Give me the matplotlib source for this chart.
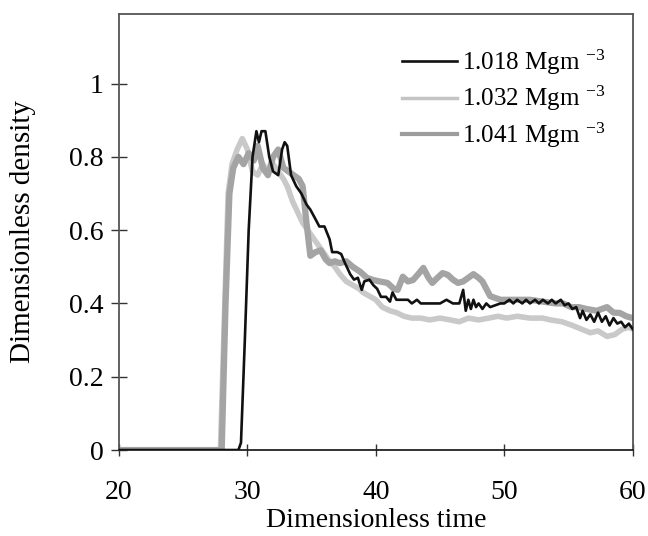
import matplotlib
matplotlib.use("Agg")
from matplotlib import pyplot as plt

plt.rcParams['font.family'] = ['Liberation Serif', 'DejaVu Serif']
plt.rcParams['mathtext.default'] = 'regular'

# 1.018 Mgm-3 (black line)
t_a = [20, 29.3, 29.5, 29.8, 30.1, 30.4, 30.7, 30.9, 31.1, 31.4, 31.7, 32.0, 32.4, 32.7, 32.9,
       33.1, 33.4, 33.8, 34.2, 34.6, 34.9, 35.3, 35.6, 36.0, 36.4, 36.6, 37.0, 37.3, 37.6, 38.0,
       38.3, 38.6, 38.9, 39.1, 39.5, 39.8, 40.1, 40.4, 40.8, 41.1, 41.3, 41.6, 42.0, 42.5, 42.8,
       43.2, 43.5, 44.0, 44.5, 45.0, 45.5, 46.0, 46.5, 46.8, 47.0, 47.2, 47.4, 47.6, 47.8, 48.0,
       48.3, 48.6, 48.9, 49.3, 49.7, 50.0, 50.4, 50.7, 51.0, 51.4, 51.7, 52.0, 52.4, 52.7, 53.0,
       53.4, 53.7, 54.0, 54.4, 54.7, 55.0, 55.3, 55.6, 55.9, 56.1, 56.4, 56.7, 57.0, 57.3, 57.6,
       57.9, 58.2, 58.5, 58.8, 59.1, 59.4, 59.7, 60.0]
d_a = [0, 0, 0.02, 0.3, 0.6, 0.8, 0.87, 0.84, 0.87, 0.87, 0.8, 0.76, 0.75, 0.82, 0.84,
       0.83, 0.75, 0.72, 0.70, 0.67, 0.656, 0.63, 0.61, 0.61, 0.575, 0.54, 0.54, 0.535, 0.51, 0.48,
       0.465, 0.47, 0.437, 0.46, 0.465, 0.45, 0.44, 0.418, 0.418, 0.405, 0.43, 0.41, 0.41, 0.41, 0.40,
       0.41, 0.40, 0.40, 0.40, 0.40, 0.41, 0.40, 0.40, 0.437, 0.38, 0.41, 0.385, 0.41, 0.39, 0.40,
       0.385, 0.40, 0.39, 0.395, 0.40, 0.40, 0.41, 0.40, 0.41, 0.40, 0.41, 0.40, 0.41, 0.40, 0.41,
       0.40, 0.41, 0.40, 0.41, 0.395, 0.40, 0.385, 0.39, 0.36, 0.38, 0.355, 0.37, 0.35, 0.375, 0.35,
       0.365, 0.34, 0.36, 0.345, 0.35, 0.335, 0.345, 0.33]

# 1.032 Mgm-3 (light grey)
t_b = [20, 27.9, 28.2, 28.5, 28.8, 29.2, 29.6, 30.0, 30.4, 30.8, 31.2, 31.6, 32.0, 32.4, 32.8,
       33.1, 33.5, 33.9, 34.3, 34.7, 35.1, 35.5, 35.9, 36.3, 36.8, 37.2, 37.7, 38.2, 38.7, 39.0,
       39.5, 40.0, 40.5, 41.1, 41.6, 42.2, 42.8, 43.5, 44.2, 45.0, 45.8, 46.5, 47.2, 48.0, 48.8,
       49.5, 50.2, 51.0, 52.0, 53.0, 53.6, 54.5, 55.3, 56.0, 56.7, 57.3, 58.0, 58.6, 59.2, 59.7, 60.0]
d_b = [0, 0, 0.35, 0.7, 0.78, 0.82, 0.85, 0.82, 0.76, 0.75, 0.78, 0.76, 0.78, 0.76, 0.74,
       0.72, 0.68, 0.65, 0.62, 0.60, 0.58, 0.56, 0.54, 0.52, 0.50, 0.48, 0.46, 0.45, 0.44, 0.43,
       0.42, 0.41, 0.39, 0.38, 0.375, 0.365, 0.36, 0.36, 0.355, 0.36, 0.355, 0.35, 0.36, 0.355, 0.36,
       0.365, 0.36, 0.365, 0.36, 0.36, 0.355, 0.35, 0.34, 0.33, 0.32, 0.325, 0.31, 0.315, 0.33, 0.335, 0.33]

# 1.041 Mgm-3 (dense grey)
t_c = [20, 28.0, 28.3, 28.6, 28.9, 29.3, 29.7, 30.1, 30.5, 30.8, 31.2, 31.6, 32.0, 32.4, 32.8,
       33.2, 33.6, 34.0, 34.3, 34.6, 34.9, 35.3, 35.7, 36.1, 36.4, 36.8, 37.2, 37.7, 38.2, 38.8,
       39.3, 39.8, 40.3, 40.9, 41.4, 41.7, 42.1, 42.5, 42.9, 43.3, 43.7, 44.1, 44.4, 44.8, 45.2,
       45.6, 46.0, 46.4, 46.8, 47.2, 47.6, 48.0, 48.3, 48.6, 48.9, 49.3, 49.7, 50.2, 51.0, 52.0,
       53.0, 54.0, 54.6, 55.2, 55.8, 56.4, 57.2, 58.0, 58.5, 59.0, 59.5, 60.0]
d_c = [0, 0, 0.4, 0.7, 0.77, 0.80, 0.78, 0.81, 0.79, 0.83, 0.77, 0.75, 0.80, 0.82, 0.77,
       0.76, 0.75, 0.74, 0.72, 0.62, 0.53, 0.54, 0.545, 0.52, 0.51, 0.515, 0.51, 0.515, 0.50, 0.486,
       0.47, 0.464, 0.46, 0.456, 0.44, 0.437, 0.473, 0.46, 0.464, 0.48, 0.497, 0.47, 0.456, 0.47, 0.483,
       0.478, 0.465, 0.456, 0.46, 0.47, 0.48, 0.47, 0.46, 0.44, 0.42, 0.415, 0.41, 0.41, 0.41, 0.41,
       0.405, 0.40, 0.40, 0.39, 0.39, 0.385, 0.38, 0.39, 0.375, 0.374, 0.365, 0.36]

labels = [r'1.018 Mgm $^{-3}$', r'1.032 Mgm $^{-3}$', r'1.041 Mgm $^{-3}$']

fig = plt.figure(figsize=(6.48, 5.36), dpi=100)
ax = fig.add_axes([0.1836, 0.1604, 0.7928, 0.8136])

l3, = ax.plot(t_c, d_c, color='#a4a4a4', lw=4.5, solid_joinstyle='round', zorder=2)
l2, = ax.plot(t_b, d_b, color='#c9c9c9', lw=4, solid_joinstyle='round', zorder=1)
l1, = ax.plot(t_a, d_a, color='#111111', lw=1.9, zorder=3)

ax.set_xlim(20, 60)
ax.set_ylim(0, 1.19)
ax.set_xticks([20, 30, 40, 50, 60])
ax.set_yticks([0, 0.2, 0.4, 0.6, 0.8, 1.0])
ax.set_yticklabels(['0', '0.2', '0.4', '0.6', '0.8', '1'])
ax.tick_params(axis='y', direction='inout', length=12, width=1, labelsize=20, pad=5, color='#333333')
ax.tick_params(axis='x', direction='inout', length=9, width=1, labelsize=20, pad=17, color='#333333')
for s in ax.spines.values():
    s.set_color('#555555')
    s.set_linewidth(1.3)
ax.spines['bottom'].set_color('#222222')

ax.set_xlabel('Dimensionless time', fontsize=20, labelpad=2)
ax.set_ylabel('Dimensionless density', fontsize=21, labelpad=24)

leg_gray = [plt.Line2D([], [], color='#111111', lw=1.9),
            plt.Line2D([], [], color='#c4c4c4', lw=2.5),
            plt.Line2D([], [], color='#9c9c9c', lw=3)]
ax.legend(leg_gray, labels, loc='upper right', bbox_to_anchor=(0.99, 0.975), frameon=False,
          fontsize=18, handlelength=2.2, handletextpad=0.2, labelspacing=0.3)

fig.savefig('out.png', dpi=100)
